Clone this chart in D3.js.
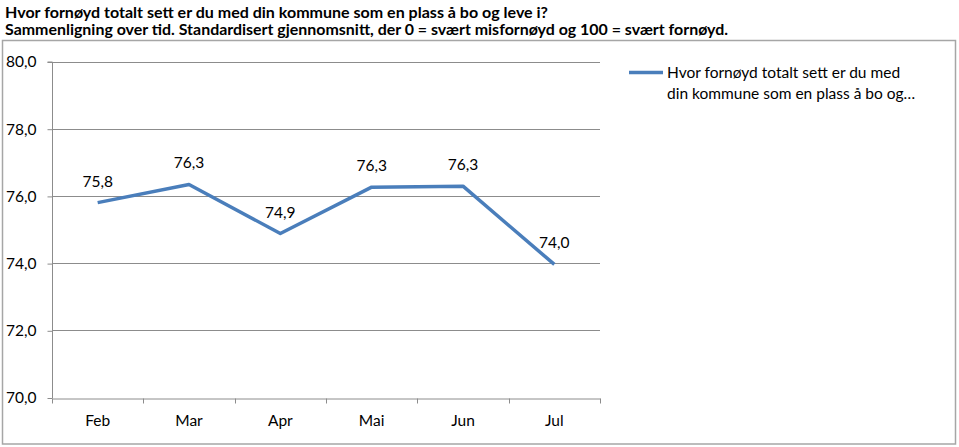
<!DOCTYPE html>
<html>
<head>
<meta charset="utf-8">
<script src="https://cdn.jsdelivr.net/npm/d3@7"></script>
<style>
  html, body { margin: 0; padding: 0; background: #fff; }
  svg text { font-family: Lato, "Open Sans", sans-serif; fill: #000; }
</style>
</head>
<body>
<svg id="chart" width="959" height="447"></svg>
<script>
const titleLines = [
  "Hvor fornøyd totalt sett er du med din kommune som en plass å bo og leve i?",
  "Sammenligning over tid. Standardisert gjennomsnitt, der 0 = svært misfornøyd og 100 = svært fornøyd."
];
const categories = ["Feb", "Mar", "Apr", "Mai", "Jun", "Jul"];
const values = [75.8, 76.34, 74.88, 76.26, 76.29, 73.96];
const yTicks = [70, 72, 74, 76, 78, 80];
const legendLines = ["Hvor fornøyd totalt sett er du med", "din kommune som en plass å bo og…"];

const svg = d3.select("#chart");
const fmt = v => d3.format(".1f")(v).replace(".", ",");

// Title
const titleWidths = [543, 723];
titleLines.forEach((t, i) => {
  svg.append("text")
    .attr("x", 5).attr("y", 18 + i * 17)
    .attr("font-weight", "bold")
    .attr("font-size", 14.5)
    .attr("textLength", titleWidths[i])
    .attr("lengthAdjust", "spacingAndGlyphs")
    .text(t);
});

// Chart frame
svg.append("rect")
  .attr("x", 2.5).attr("y", 40.5).attr("width", 953).attr("height", 403.5)
  .attr("fill", "none").attr("stroke", "#a6a6a6").attr("stroke-width", 1.5);

const x = d3.scaleBand().domain(categories).range([52, 600]).paddingInner(0).paddingOuter(0);
const y = d3.scaleLinear().domain([70, 80]).range([397.5, 61.5]);

// Gridlines
svg.append("g").selectAll("line").data(yTicks.filter(d => d !== 70)).join("line")
  .attr("x1", 52).attr("x2", 600)
  .attr("y1", d => Math.round(y(d)) + 0.5).attr("y2", d => Math.round(y(d)) + 0.5)
  .attr("stroke", "#8c8c8c").attr("stroke-width", 1);

// Y axis
const yAxis = svg.append("g").attr("transform", "translate(52.5,0.5)")
  .call(d3.axisLeft(y).tickValues(yTicks).tickSize(5).tickPadding(11).tickFormat(d => fmt(d)));
yAxis.select(".domain").attr("stroke", "#8c8c8c").attr("d", `M-5,${y(80)}H0V${y(70)}`);
yAxis.selectAll(".tick line").attr("stroke", "#8c8c8c");
yAxis.selectAll(".tick text").attr("font-size", 15.5).attr("font-family", "Lato, sans-serif").attr("fill", "#000");

// X axis
const xAxis = svg.append("g").attr("transform", `translate(0,${Math.round(y(70)) + 0.5})`)
  .call(d3.axisBottom(x).tickSize(0).tickPadding(16));
xAxis.select(".domain").attr("stroke", "#8c8c8c");
xAxis.selectAll(".tick text").attr("font-size", 15.5).attr("font-family", "Lato, sans-serif").attr("fill", "#000");
// category boundary ticks
const bounds = categories.map(c => x(c)).concat([x(categories[categories.length - 1]) + x.bandwidth()]);
svg.append("g").selectAll("line").data(bounds).join("line")
  .attr("x1", d => Math.round(d) + 0.5).attr("x2", d => Math.round(d) + 0.5)
  .attr("y1", Math.round(y(70)) + 0.5).attr("y2", Math.round(y(70)) + 5.5)
  .attr("stroke", "#8c8c8c");

// Line
const line = d3.line().x((d, i) => x(categories[i]) + x.bandwidth() / 2).y(d => y(d));
svg.append("path").datum(values)
  .attr("d", line)
  .attr("fill", "none").attr("stroke", "#4a7ebb").attr("stroke-width", 3.5)
  .attr("stroke-linejoin", "round");

// Data labels
svg.append("g").selectAll("text").data(values).join("text")
  .attr("x", (d, i) => x(categories[i]) + x.bandwidth() / 2)
  .attr("y", d => y(d) - 16)
  .attr("text-anchor", "middle")
  .attr("font-size", 15.5)
  .text(d => fmt(d));

// Legend
svg.append("line")
  .attr("x1", 629).attr("x2", 663).attr("y1", 72.5).attr("y2", 72.5)
  .attr("stroke", "#4a7ebb").attr("stroke-width", 3.5);
legendLines.forEach((t, i) => {
  svg.append("text")
    .attr("x", 667).attr("y", 78 + i * 21)
    .attr("font-size", 15.5)
    .text(t);
});
</script>
</body>
</html>
